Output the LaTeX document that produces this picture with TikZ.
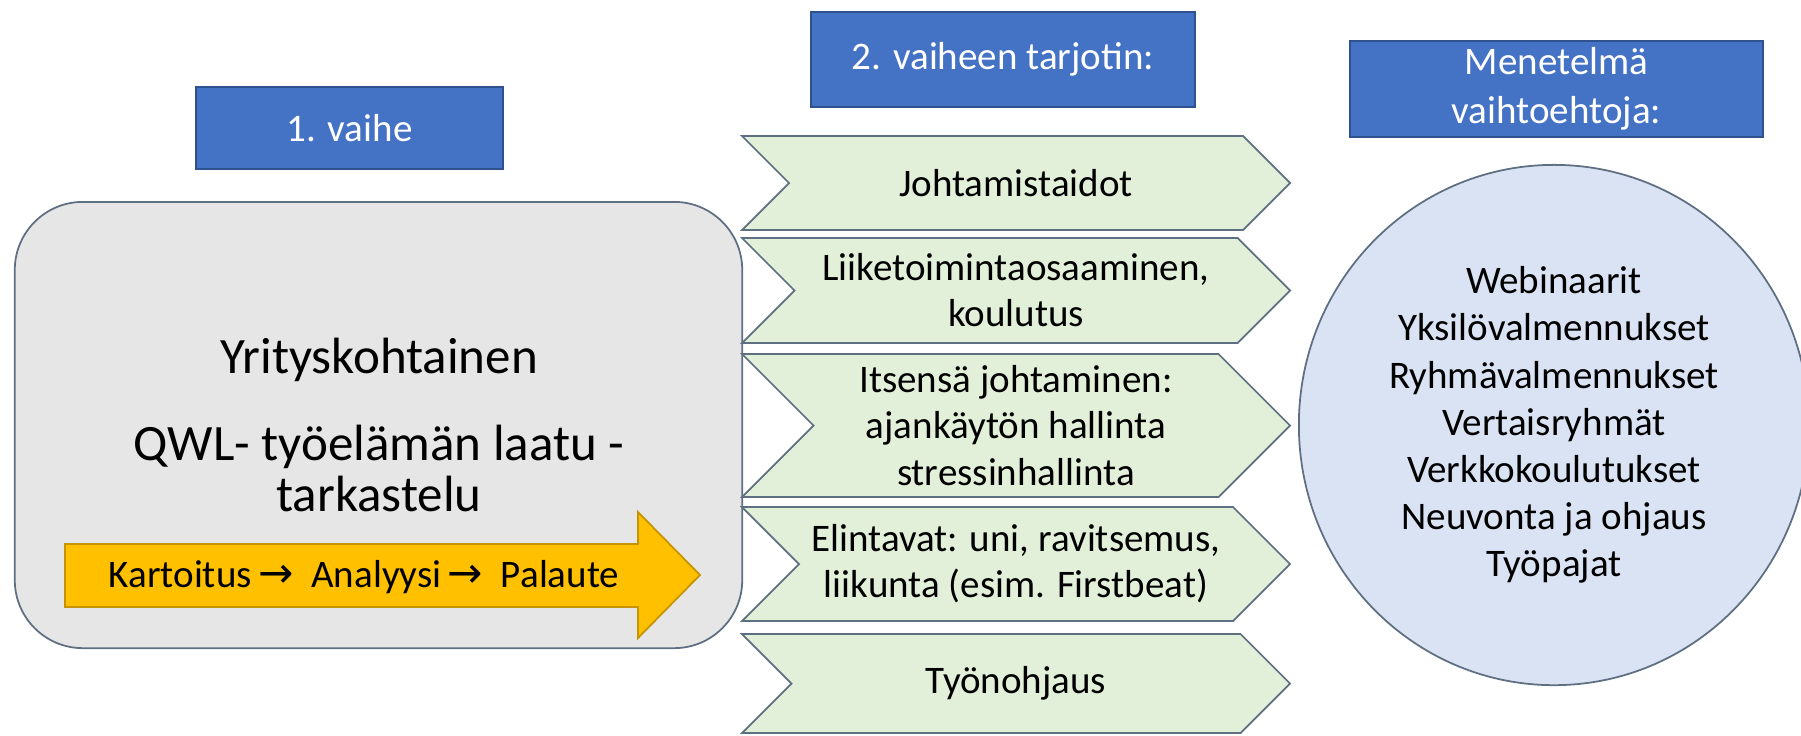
\documentclass[tikz,border=0pt]{standalone}
\usepackage{fontspec}
\setmainfont{Carlito}
\newfontfamily\arrowfont{DejaVu Sans}
\usepackage{tikz}
\usetikzlibrary{positioning,shapes.geometric}

\definecolor{titleblue}{HTML}{4472C4}
\definecolor{titleedge}{HTML}{2F528F}
\definecolor{stagegray}{HTML}{E7E6E6}
\definecolor{offergreen}{HTML}{E2F0D9}
\definecolor{methodblue}{HTML}{DAE3F3}
\definecolor{shapeedge}{HTML}{5F6F82}
\definecolor{flowyellow}{HTML}{FFC000}
\definecolor{flowedge}{HTML}{C59400}

\newcommand{\flowarrow}{\,{\arrowfont\fontsize{12}{12}\selectfont →}\ \ }

\begin{document}
\begin{tikzpicture}[x=0.01cm,y=-0.01cm,
    title/.style={draw=titleedge, fill=titleblue, text=white, line width=0.6pt, align=center, font=\fontsize{11.1}{13.9}\selectfont, inner sep=0pt},
    stagebox/.style={draw=shapeedge, fill=stagegray, line width=0.5pt, rounded corners=0.68cm, minimum width=7.27cm, minimum height=4.46cm},
    bigtext/.style={align=center, font=\fontsize{14.5}{14.5}\selectfont, inner sep=0pt},
    chevron/.style={draw=shapeedge, fill=offergreen, line width=0.5pt},
    offer/.style={align=center, font=\fontsize{11.1}{13.1}\selectfont, inner sep=0pt},
    flow/.style={draw=flowedge, fill=flowyellow, line width=0.5pt},
    flowtext/.style={font=\fontsize{11.1}{13.1}\selectfont, inner sep=0pt},
    method/.style={ellipse, draw=shapeedge, fill=methodblue, line width=0.5pt, minimum width=5.1cm, minimum height=5.2cm, align=center, font=\fontsize{11.1}{13.4}\selectfont, inner sep=0pt}]

    \useasboundingbox (0,0) rectangle (1801,735);

    %%% Titles
    \node[title, minimum width=3.07cm, minimum height=0.82cm] (phase1) at (349.5,128) {1. vaihe};
    \node[title, minimum width=3.84cm, minimum height=0.95cm] (phase2) at (1003,59.5) {2. vaiheen tarjotin:};
    \node[title, minimum width=4.13cm, minimum height=0.96cm] (methodtitle) at (1556.5,89) {Menetelmä\\vaihtoehtoja:};

    %%% Stage 1 box
    \node[stagebox] (stage1) at (378.5,425) {};
    \node[bigtext] (company) at (379,360) {Yrityskohtainen};
    \node[bigtext] (qwl) at (379,468) {QWL- työelämän laatu -\\tarkastelu};

    %% yellow flow arrow
    \draw[flow] (65,544) -- (638,544) -- (638,512) -- (700,575) -- (638,638) -- (638,607) -- (65,607) -- cycle;
    \node[flowtext] (steps) at (364,577) {Kartoitus\flowarrow Analyysi\flowarrow Palaute};

    %%% Stage 2 offers
    \foreach \name/\ya/\yb/\txt in {
        skills/136/230/{Johtamistaidot},
        business/238/343/{Liiketoimintaosaaminen,\\koulutus},
        selfmgmt/354/497/{Itsensä johtaminen:\\ajankäytön hallinta\\stressinhallinta},
        lifestyle/507/621/{Elintavat: uni, ravitsemus,\\liikunta (esim. Firstbeat)},
        coaching/634/733/{Työnohjaus}}
    {
        \pgfmathsetmacro\dep{(\yb-\ya)/2}
        \pgfmathsetmacro\ymid{(\ya+\yb)/2}
        \draw[chevron] (742,\ya) -- ({1290-\dep},\ya) -- (1290,\ymid) -- ({1290-\dep},\yb) -- (742,\yb) -- ({742+\dep},\ymid) -- cycle;
        \node[offer] (\name) at (1016,\ymid) {\txt};
    }

    %%% Methods
    \node[method] (methods) at (1554,425) {Webinaarit\\Yksilövalmennukset\\Ryhmävalmennukset\\Vertaisryhmät\\Verkkokoulutukset\\Neuvonta ja ohjaus\\Työpajat};
\end{tikzpicture}
\end{document}
